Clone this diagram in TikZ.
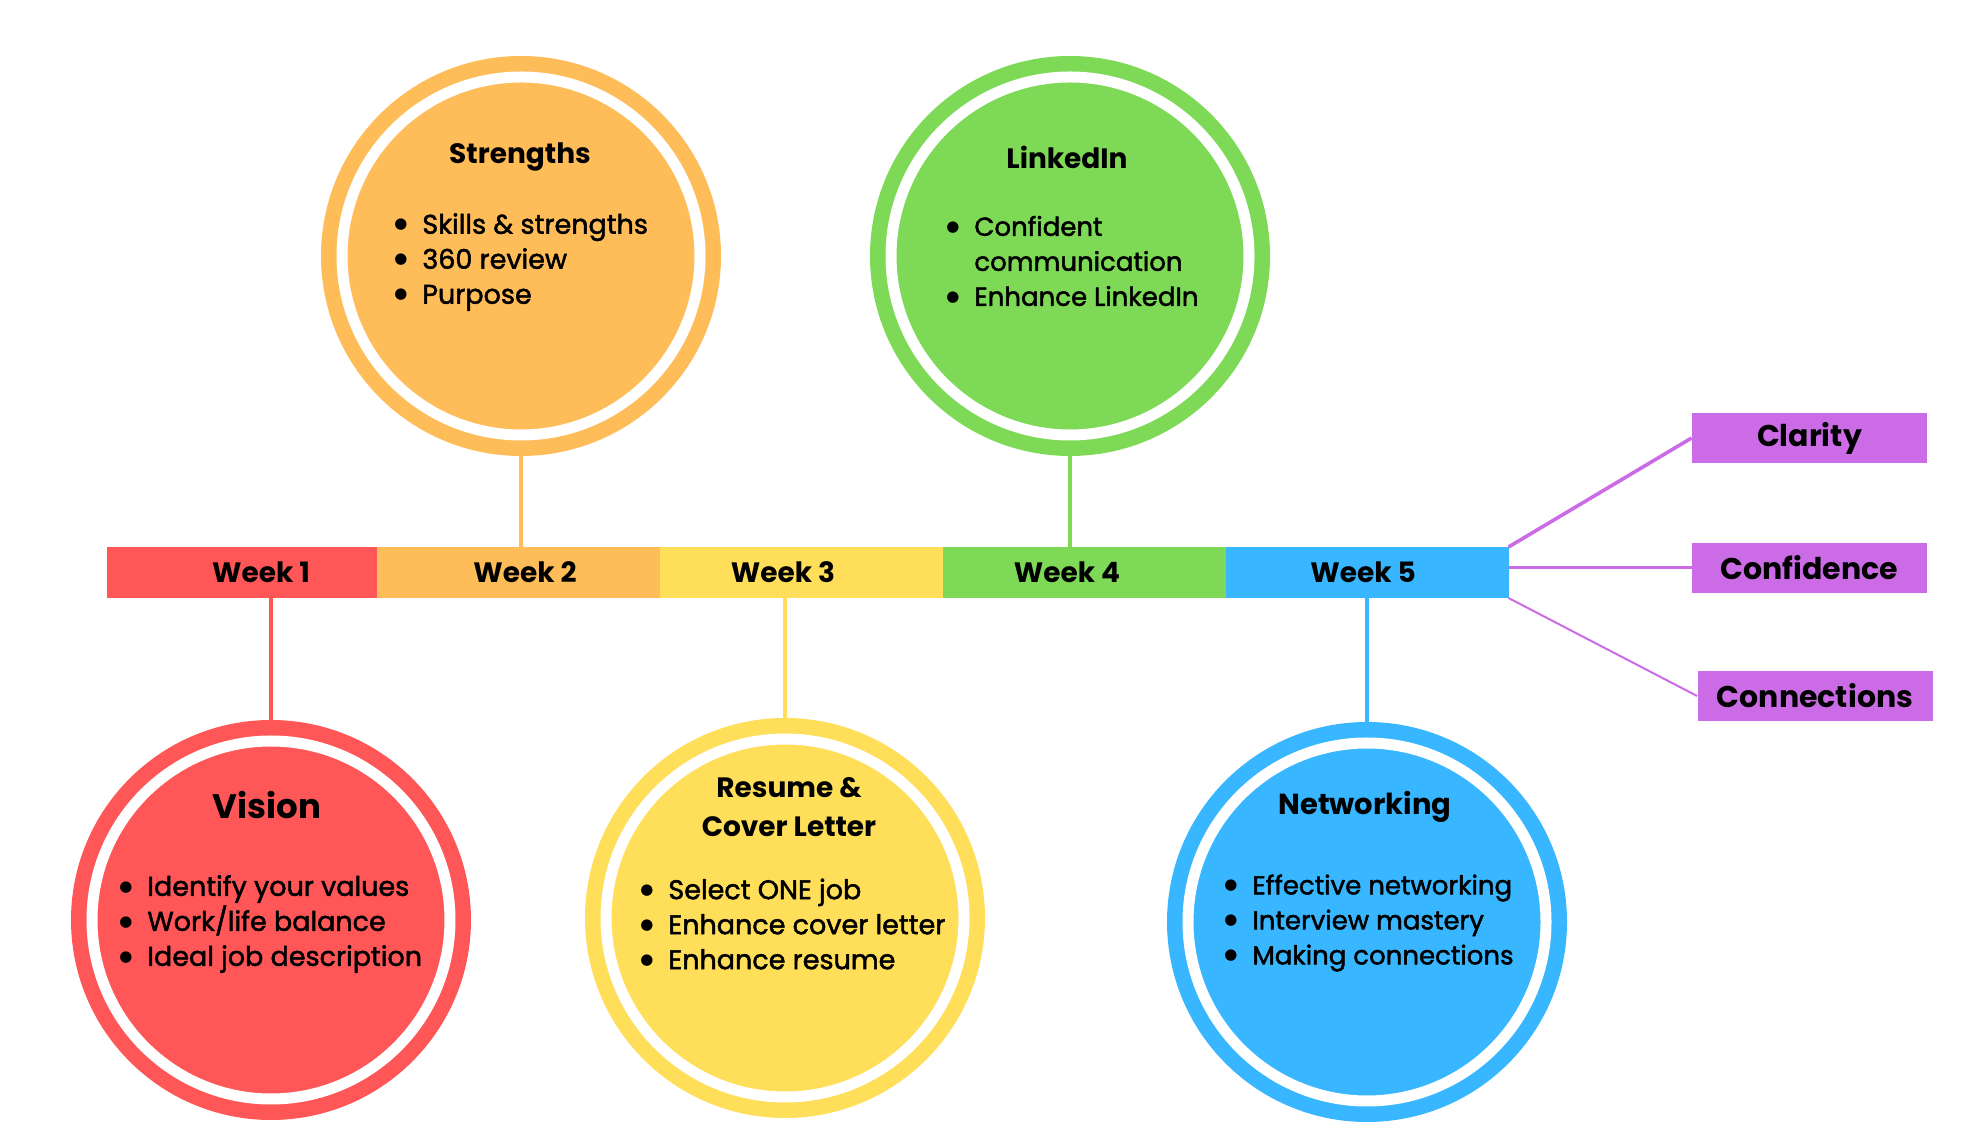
\documentclass[tikz,border=0pt]{standalone}
\usepackage{fontspec}
\setmainfont{Poppins}
\newfontfamily\itemfont{Poppins}[FakeBold=1.8]
\newfontfamily\dotfont{DejaVu Sans}
\usepackage{tikz}
\usetikzlibrary{positioning}

\definecolor{wkred}{HTML}{FF5757}
\definecolor{wkorange}{HTML}{FFBD59}
\definecolor{wkyellow}{HTML}{FFDE59}
\definecolor{wkgreen}{HTML}{7ED957}
\definecolor{wkblue}{HTML}{38B6FF}
\definecolor{wkpurple}{HTML}{CB6CE6}

\newcommand{\bitem}[1]{\makebox[14bp][l]{\raisebox{2.4bp}{\dotfont\fontsize{7.5bp}{8bp}\selectfont ●}}#1}

\begin{document}
\begin{tikzpicture}[line join=bevel,
  ringnode/.style={circle,fill=#1,draw=#1,line width=7.75bp,double=white,double distance=5.5bp,minimum size=179bp,inner sep=0pt,outer sep=10.5bp},
  weekbox/.style={fill=#1,minimum width=141.5bp,minimum height=25.5bp,inner sep=0pt,outer sep=0pt},
  weeklabel/.style={inner sep=0pt,font=\fontsize{14bp}{17bp}\selectfont\bfseries},
  goalbox/.style={fill=wkpurple,minimum width=117.5bp,minimum height=25bp,inner sep=0pt,font=\fontsize{15bp}{18bp}\selectfont\bfseries},
  titletext/.style={align=center,inner sep=0pt,font=\fontsize{14bp}{19.5bp}\selectfont\bfseries},
  itemlist/.style={align=left,anchor=west,inner sep=0pt,font=\fontsize{#1}{17.5bp}\itemfont},
  itemlist/.default=13.5bp,
  stemline/.style={#1,line width=2bp},
]
\useasboundingbox (0bp,0bp) rectangle (992bp,574bp);
%%
\node (w1) at (120.75bp,287.75bp) [weekbox=wkred,minimum width=135bp,label={[weeklabel,xshift=9.75bp]center:Week 1}] {};
  \node (w2) [weekbox=wkorange,right=0pt of w1,label={[weeklabel,xshift=3.5bp]center:Week 2}] {};
  \node (w3) [weekbox=wkyellow,right=0pt of w2,label={[weeklabel,xshift=-9bp]center:Week 3}] {};
  \node (w4) [weekbox=wkgreen,right=0pt of w3,label={[weeklabel,xshift=-8.5bp]center:Week 4}] {};
  \node (w5) [weekbox=wkblue,right=0pt of w4,label={[weeklabel,xshift=-2bp]center:Week 5}] {};
%%
\node (strengths) at (260.5bp,446bp) [ringnode=wkorange] {};
  \node (linkedin) at (535bp,446bp) [ringnode=wkgreen] {};
  \node (vision) at (135.5bp,114bp) [ringnode=wkred] {};
  \node (resume) at (392.5bp,115bp) [ringnode=wkyellow] {};
  \node (networking) at (683.5bp,113bp) [ringnode=wkblue] {};
%
\node (strengths-t) at (260bp,495.5bp) [titletext] {Strengths};
  \node (linkedin-t) at (533.5bp,495.5bp) [titletext] {LinkedIn};
  \node (vision-t) at (133.5bp,171.5bp) [titletext,font=\fontsize{17bp}{20bp}\selectfont\bfseries] {Vision};
  \node (resume-t) at (394.5bp,170.25bp) [titletext] {Resume \&\\Cover Letter};
  \node (networking-t) at (682.5bp,170.5bp) [titletext,font=\fontsize{14.5bp}{19.5bp}\selectfont\bfseries] {Networking};
%
\node (strengths-l) at (197bp,443bp) [itemlist] {\bitem{Skills \& strengths}\\\bitem{360 review}\\\bitem{Purpose}};
  \node (linkedin-l) at (473bp,443.5bp) [itemlist=13bp] {\bitem{Confident}\\\hspace*{14bp}communication\\\bitem{Enhance LinkedIn}};
  \node (vision-l) at (59.5bp,112bp) [itemlist] {\bitem{Identify your values}\\\bitem{Work/life balance}\\\bitem{Ideal job description}};
  \node (resume-l) at (320bp,112bp) [itemlist] {\bitem{Select ONE job}\\\bitem{Enhance cover letter}\\\bitem{Enhance resume}};
  \node (networking-l) at (612bp,112.5bp) [itemlist=13bp] {\bitem{Effective networking}\\\bitem{Interview mastery}\\\bitem{Making connections}};
%%
\node (clarity) at (904.75bp,355bp) [goalbox] {Clarity};
  \node (confidence) at (904.75bp,290bp) [goalbox] {Confidence};
  \node (connections) at (907.5bp,226bp) [goalbox] {Connections};
%
\draw [stemline=wkorange] (strengths.south) -- (strengths.south |- w2.north);
  \draw [stemline=wkgreen] (linkedin.south) -- (linkedin.south |- w4.north);
  \draw [stemline=wkred] (w1.south -| vision.north) -- (vision.north);
  \draw [stemline=wkyellow] (w3.south -| resume.north) -- (resume.north);
  \draw [stemline=wkblue] (w5.south -| networking.north) -- (networking.north);
  \draw [wkpurple,line width=1.8bp] (w5.north east) -- (clarity.west);
  \draw [wkpurple,line width=1.5bp] (confidence.west -| w5.east) -- (confidence.west);
  \draw [wkpurple,line width=1bp] (w5.south east) -- (connections.west);
%
\end{tikzpicture}
\end{document}
